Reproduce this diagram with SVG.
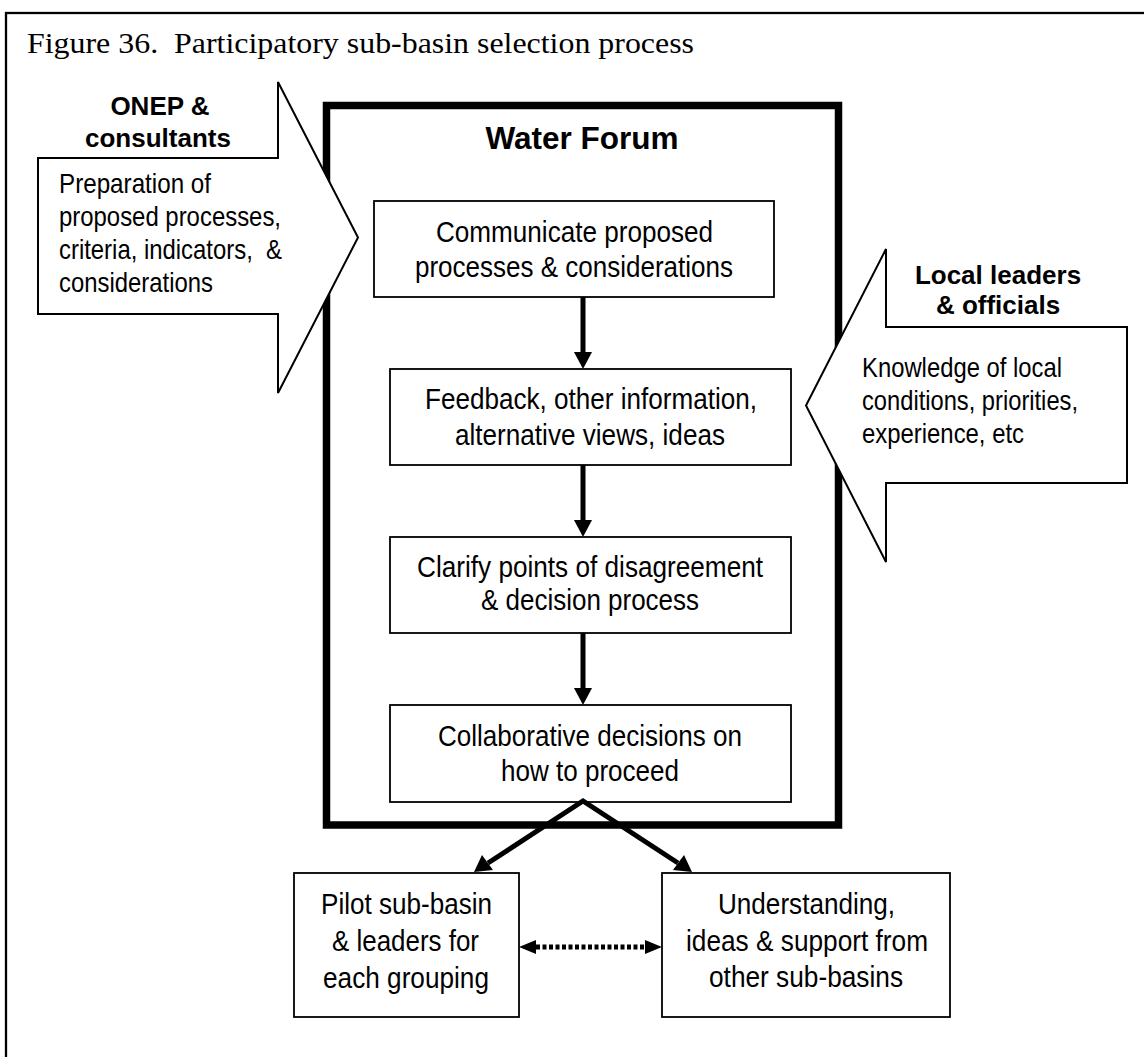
<svg xmlns="http://www.w3.org/2000/svg" width="1144" height="1057" viewBox="0 0 1144 1057">
<defs>
<style>
.frame{fill:none;stroke:#000;stroke-width:2.3}
.forum{fill:#fff;stroke:#000;stroke-width:7.5}
.box{fill:#fff;stroke:#000;stroke-width:1.8}
.callout{fill:#fff;stroke:#000;stroke-width:2}
.conn{fill:none;stroke:#000;stroke-width:5}
.dot{fill:none;stroke:#000;stroke-width:5;stroke-dasharray:4 2.5}
.head{fill:#000;stroke:none}
.t{font-family:"Liberation Sans",Arial,sans-serif;font-size:30px;fill:#000}
.s{font-size:28px}
.b{font-family:"Liberation Sans",Arial,sans-serif;font-size:26px;font-weight:bold;fill:#000;text-anchor:middle}
.title{font-family:"Liberation Serif","Times New Roman",serif;font-size:30px;fill:#000}
</style>
</defs>
<rect width="1144" height="1057" fill="#fff"/>
<rect class="frame" x="6" y="13" width="1200" height="1100"/>
<text class="title" x="27" y="53" textLength="667" lengthAdjust="spacingAndGlyphs" xml:space="preserve">Figure 36.  Participatory sub-basin selection process</text>

<g id="water-forum">
<rect class="forum" x="326.5" y="105.5" width="512" height="719.5"/>
<text class="b" x="582" y="149" style="font-size:31.5px">Water Forum</text>
</g>

<g id="onep">
<polygon class="callout" points="38,158 278,158 278,82 358,237.5 278,393 278,314 38,314"/>
<text class="b" x="160" y="115">ONEP &amp;</text>
<text class="b" x="158" y="147">consultants</text>
<text class="t s" x="59" y="193" textLength="152" lengthAdjust="spacingAndGlyphs">Preparation of</text>
<text class="t s" x="59" y="226" textLength="222" lengthAdjust="spacingAndGlyphs">proposed processes,</text>
<text class="t s" x="59" y="259" textLength="223" lengthAdjust="spacingAndGlyphs" xml:space="preserve">criteria, indicators,  &amp;</text>
<text class="t s" x="59" y="292" textLength="154" lengthAdjust="spacingAndGlyphs">considerations</text>
</g>

<g id="local">
<polygon class="callout" points="1127,327 886,327 886,249 806,405.5 886,562 886,483 1127,483"/>
<text class="b" x="998" y="284">Local leaders</text>
<text class="b" x="998" y="314">&amp; officials</text>
<text class="t s" x="862" y="377" textLength="200" lengthAdjust="spacingAndGlyphs">Knowledge of local</text>
<text class="t s" x="862" y="410" textLength="216" lengthAdjust="spacingAndGlyphs">conditions, priorities,</text>
<text class="t s" x="862" y="443" textLength="162" lengthAdjust="spacingAndGlyphs">experience, etc</text>
</g>

<g id="communicate">
<rect class="box" x="374" y="201" width="400" height="96"/>
<text class="t" x="436" y="242" textLength="277" lengthAdjust="spacingAndGlyphs">Communicate proposed</text>
<text class="t" x="415" y="277" textLength="318" lengthAdjust="spacingAndGlyphs">processes &amp; considerations</text>
</g>

<g id="feedback">
<rect class="box" x="390" y="369" width="401" height="96"/>
<text class="t" x="425" y="409" textLength="332" lengthAdjust="spacingAndGlyphs">Feedback, other information,</text>
<text class="t" x="455" y="445" textLength="270" lengthAdjust="spacingAndGlyphs">alternative views, ideas</text>
</g>

<g id="clarify">
<rect class="box" x="390" y="537" width="401" height="96"/>
<text class="t" x="417" y="577" textLength="346" lengthAdjust="spacingAndGlyphs">Clarify points of disagreement</text>
<text class="t" x="481" y="610" textLength="218" lengthAdjust="spacingAndGlyphs">&amp; decision process</text>
</g>

<g id="collaborative">
<rect class="box" x="390" y="705" width="401" height="97"/>
<text class="t" x="438" y="746" textLength="304" lengthAdjust="spacingAndGlyphs">Collaborative decisions on</text>
<text class="t" x="501" y="781" textLength="178" lengthAdjust="spacingAndGlyphs">how to proceed</text>
</g>

<g id="pilot">
<rect class="box" x="294" y="873" width="225" height="144"/>
<text class="t" x="321" y="914" textLength="171" lengthAdjust="spacingAndGlyphs">Pilot sub-basin</text>
<text class="t" x="332" y="951" textLength="147" lengthAdjust="spacingAndGlyphs">&amp; leaders for</text>
<text class="t" x="323" y="988" textLength="166" lengthAdjust="spacingAndGlyphs">each grouping</text>
</g>

<g id="understanding">
<rect class="box" x="662" y="873" width="288" height="144"/>
<text class="t" x="718" y="914" textLength="177" lengthAdjust="spacingAndGlyphs">Understanding,</text>
<text class="t" x="686" y="951" textLength="242" lengthAdjust="spacingAndGlyphs">ideas &amp; support from</text>
<text class="t" x="709" y="987" textLength="194" lengthAdjust="spacingAndGlyphs">other sub-basins</text>
</g>

<g id="connectors">
<line class="conn" x1="583" y1="297" x2="583" y2="353"/>
<polygon class="head" points="574,352 592,352 583,369"/>
<line class="conn" x1="583" y1="465" x2="583" y2="521"/>
<polygon class="head" points="574,520 592,520 583,537"/>
<line class="conn" x1="583" y1="633" x2="583" y2="689"/>
<polygon class="head" points="574,688 592,688 583,705"/>
<polyline class="conn" points="488,863 583,801 678,863" stroke-linejoin="miter"/>
<polygon class="head" points="474,872 482,855 493,870"/>
<polygon class="head" points="692,872 684,855 673,870"/>
<line class="dot" x1="536" y1="947" x2="645" y2="947"/>
<polygon class="head" points="519,947 536,940 536,954"/>
<polygon class="head" points="662,947 645,940 645,954"/>
</g>
</svg>
